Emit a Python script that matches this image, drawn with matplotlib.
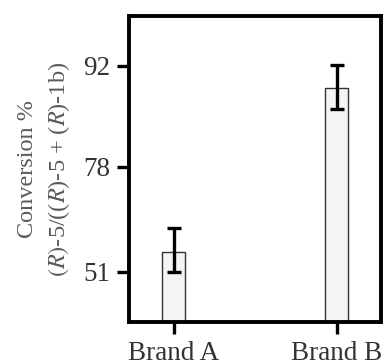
import numpy as np
import matplotlib
matplotlib.use("Agg")
import matplotlib.pyplot as plt

brands = ["Brand A", "Brand B"]
conversion = [56.7, 89.9]
err_low = [5.6, 2.5]
err_high = [6.7, 2.2]
yticks = [51, 78, 92]
ylims = (36.75, 95.37)

plt.rcParams["font.family"] = ["Liberation Serif", "DejaVu Serif"]
plt.rcParams["mathtext.fontset"] = "stix"


def fwd(p):
    p = np.clip(np.asarray(p, dtype=float), 1e-6, 100 - 1e-6)
    return np.log(p / (100 - p))


def inv(y):
    return 100 / (1 + np.exp(-np.asarray(y, dtype=float)))


fig = plt.figure(figsize=(3.88, 3.6), dpi=100)
ax = fig.add_axes([0.332, 0.1056, 0.650, 0.850])
ax.set_yscale("function", functions=(fwd, inv))

x = np.arange(len(brands))
heights = [v - ylims[0] for v in conversion]
ax.bar(x, heights, bottom=ylims[0], width=0.14, color="#f4f4f4",
       edgecolor="#333333", linewidth=1.0, zorder=2)
ax.errorbar(x, conversion, yerr=[err_low, err_high], fmt="none",
            ecolor="black", elinewidth=2.4, capsize=5, capthick=2.4, zorder=3)

ax.set_xlim(-0.274, 1.27)
ax.set_ylim(*ylims)
ax.set_xticks(x)
ax.set_xticklabels(brands)
ax.set_yticks(yticks)
ax.minorticks_off()

for s in ax.spines.values():
    s.set_linewidth(2.8)
ax.tick_params(axis="both", direction="out", length=8.5, width=2.4,
               labelsize=19.5, labelcolor="#333333", pad=5)

ax.set_ylabel("Conversion %\n$(R)$-5/(($R$)-5 + ($R$)-1b)", fontsize=17.5,
              color="#5a5a5a", linespacing=1.4, labelpad=8)

fig.savefig("out.png", dpi=100)
